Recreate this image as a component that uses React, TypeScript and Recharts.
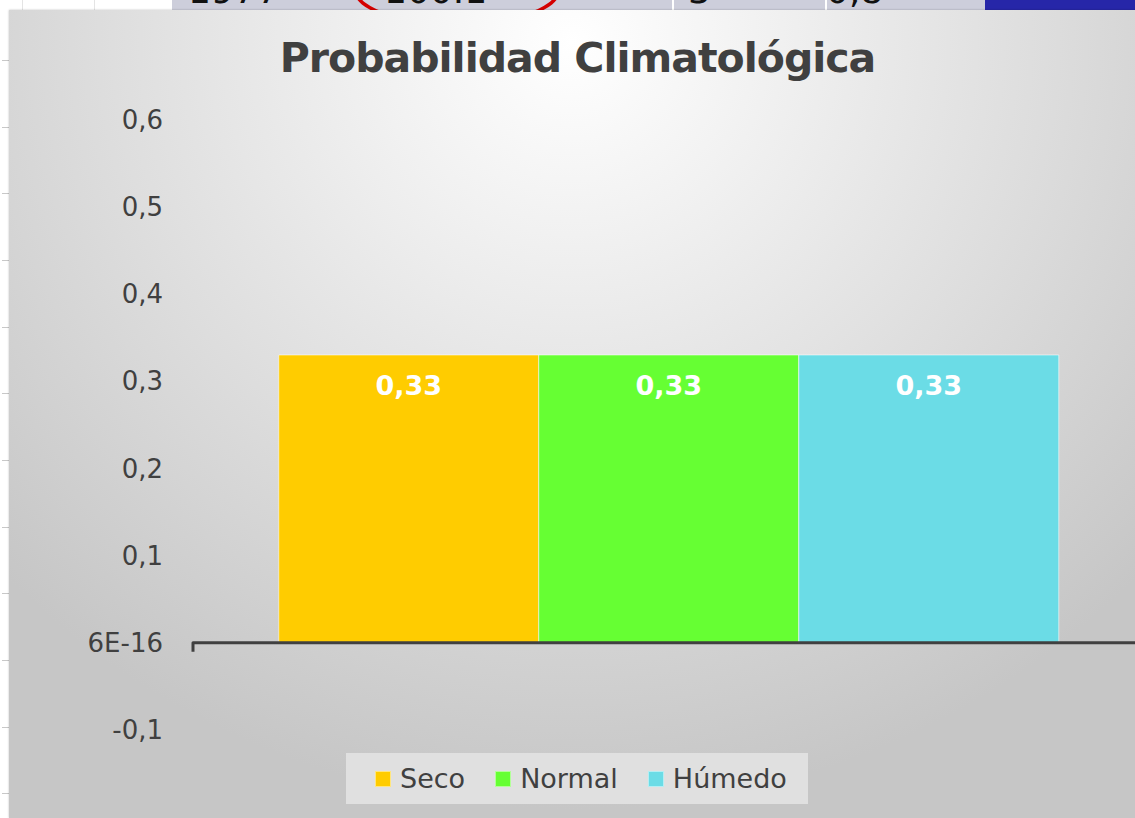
import React from 'react';
import { BarChart, Bar, XAxis, YAxis, ReferenceLine, Legend, LabelList } from 'recharts';

// chart values
const categories = ['Probabilidad'];
const seriesNames = ['Seco', 'Normal', 'Húmedo'];
const seco = [0.33];
const normal = [0.33];
const humedo = [0.33];
const seriesColors = ['#FFCC00', '#66FF33', '#6BDCE6'];
const yTicks = [-0.1, 0, 0.1, 0.2, 0.3, 0.4, 0.5, 0.6];
const yTickLabels = ['-0,1', '6E-16', '0,1', '0,2', '0,3', '0,4', '0,5', '0,6'];

// spreadsheet bits peeking out above / left of the chart
const sheetTexts = [
  { text: '1977', left: 188 },
  { text: '100.1', left: 384 },
  { text: '3', left: 688 },
  { text: '0,8', left: 826 },
];
const rowLines = [60, 127, 193, 260, 327, 393, 460, 527, 593, 660, 727, 793];

const data = categories.map((c, i) => ({
  name: c,
  Seco: seco[i],
  Normal: normal[i],
  'Húmedo': humedo[i],
}));

const FONT = '"DejaVu Sans", Verdana, sans-serif';
const TEXT = '#404040';

const fmtTick = (v: number) => {
  const idx = yTicks.findIndex((t) => Math.abs(t - v) < 1e-9);
  return idx >= 0 ? yTickLabels[idx] : String(v);
};
const fmtLabel = (v: any) => Number(v).toFixed(2).replace('.', ',');

// horizontal axis drawn at zero, with the little tick at its left end
const AxisAtZero = (props: any) => {
  const { x1, y1, x2, y2 } = props;
  return (
    <path
      d={`M${x1},${y1 + 9} L${x1},${y1} L${x2},${y2}`}
      stroke="#404040"
      strokeWidth={3}
      fill="none"
      strokeLinejoin="round"
    />
  );
};

const renderLegend = (props: any) => {
  const payload: any[] = props.payload || [];
  // keep series order (Seco, Normal, Húmedo)
  const items = seriesNames
    .map((n) => payload.find((p) => p.value === n || p.dataKey === n))
    .filter(Boolean);
  return (
    <div
      style={{
        display: 'flex',
        alignItems: 'center',
        height: 51,
        width: 462,
        boxSizing: 'border-box',
        paddingLeft: 29,
        background: '#e0e0e0',
        fontFamily: FONT,
        fontSize: 27,
        color: TEXT,
      }}
    >
      {items.map((entry: any) => (
        <div key={entry.value} style={{ display: 'flex', alignItems: 'center', marginRight: 30 }}>
          <span
            style={{
              width: 16,
              height: 16,
              background: entry.color,
              marginRight: 9,
              boxSizing: 'border-box',
              border: '1px solid rgba(255,255,255,0.5)',
            }}
          />
          <span style={{ lineHeight: '30px' }}>{entry.value}</span>
        </div>
      ))}
    </div>
  );
};

export default function App() {
  return (
    <div
      style={{
        position: 'fixed',
        left: 0,
        top: 0,
        width: 1135,
        height: 818,
        overflow: 'hidden',
        background: '#ffffff',
      }}
    >
      {/* top strip of the sheet */}
      <div style={{ position: 'absolute', left: 0, top: 0, width: 1135, height: 10, overflow: 'hidden' }}>
        <div style={{ position: 'absolute', left: 22, top: 0, width: 1, height: 10, background: '#e4e4e4' }} />
        <div style={{ position: 'absolute', left: 94, top: 0, width: 1, height: 10, background: '#e4e4e4' }} />
        <div style={{ position: 'absolute', left: 172, top: 0, width: 813, height: 10, background: '#cdcedb' }} />
        <div style={{ position: 'absolute', left: 672, top: 0, width: 2, height: 10, background: '#ffffff' }} />
        <div style={{ position: 'absolute', left: 825, top: 0, width: 2, height: 10, background: '#ffffff' }} />
        <div style={{ position: 'absolute', left: 985, top: 0, width: 150, height: 10, background: '#2626a8' }} />
        {sheetTexts.map((t) => (
          <div
            key={t.text}
            style={{
              position: 'absolute',
              left: t.left,
              top: -27,
              fontFamily: FONT,
              fontSize: 36,
              lineHeight: '36px',
              color: '#111',
              whiteSpace: 'nowrap',
            }}
          >
            {t.text}
          </div>
        ))}
        <div
          style={{
            position: 'absolute',
            left: 354,
            top: -44,
            width: 206,
            height: 70,
            border: '4px solid #d40000',
            borderRadius: '50%',
            boxSizing: 'border-box',
          }}
        />
      </div>

      {/* row lines of the sheet on the left */}
      {rowLines.map((y) => (
        <div key={y} style={{ position: 'absolute', left: 2, top: y, width: 7, height: 1, background: '#c8c8c8' }} />
      ))}

      {/* chart area */}
      <div
        style={{
          position: 'absolute',
          left: 9,
          top: 10,
          width: 1126,
          height: 808,
          overflow: 'hidden',
          background:
            'radial-gradient(ellipse 70% 95% at 50% 4%, #ffffff 0%, #f1f1f1 25%, #dddddd 60%, #c6c6c6 100%)',
          boxShadow: '0 0 2px rgba(0,0,0,0.25)',
        }}
      >
        <div
          style={{
            position: 'absolute',
            left: 0,
            top: 28,
            width: 1137,
            textAlign: 'center',
            fontFamily: FONT,
            fontWeight: 'bold',
            fontSize: 41,
            lineHeight: '41px',
            letterSpacing: -1,
            color: TEXT,
          }}
        >
          Probabilidad Climatológica
        </div>
        <div style={{ position: 'absolute', left: 0, top: 0 }}>
          <BarChart
            width={1200}
            height={808}
            data={data}
            margin={{ top: 109.5, right: 63, left: 0, bottom: 88 }}
            barCategoryGap="9%"
            barGap={0}
          >
            <XAxis dataKey="name" hide />
            <YAxis
              type="number"
              domain={[-0.1, 0.6]}
              ticks={yTicks}
              interval={0}
              allowDataOverflow
              width={184}
              axisLine={false}
              tickLine={false}
              tickSize={0}
              tickMargin={30}
              tickFormatter={fmtTick}
              tick={{ fill: TEXT, fontSize: 26, fontFamily: FONT }}
            />
            {seriesNames.map((n, i) => (
              <Bar
                key={n}
                dataKey={n}
                fill={seriesColors[i]}
                stroke="rgba(255,255,255,0.55)"
                strokeWidth={1}
                isAnimationActive={false}
              >
                <LabelList
                  dataKey={n}
                  position="insideTop"
                  offset={21}
                  formatter={fmtLabel}
                  fill="#ffffff"
                  fontSize={27}
                  fontWeight="bold"
                  fontFamily={FONT}
                />
              </Bar>
            ))}
            <ReferenceLine y={0} shape={AxisAtZero} />
            <Legend
              layout="horizontal"
              verticalAlign="middle"
              align="center"
              content={renderLegend}
              wrapperStyle={{ left: 337, top: 743, width: 462, height: 51 }}
            />
          </BarChart>
        </div>
      </div>
    </div>
  );
}
